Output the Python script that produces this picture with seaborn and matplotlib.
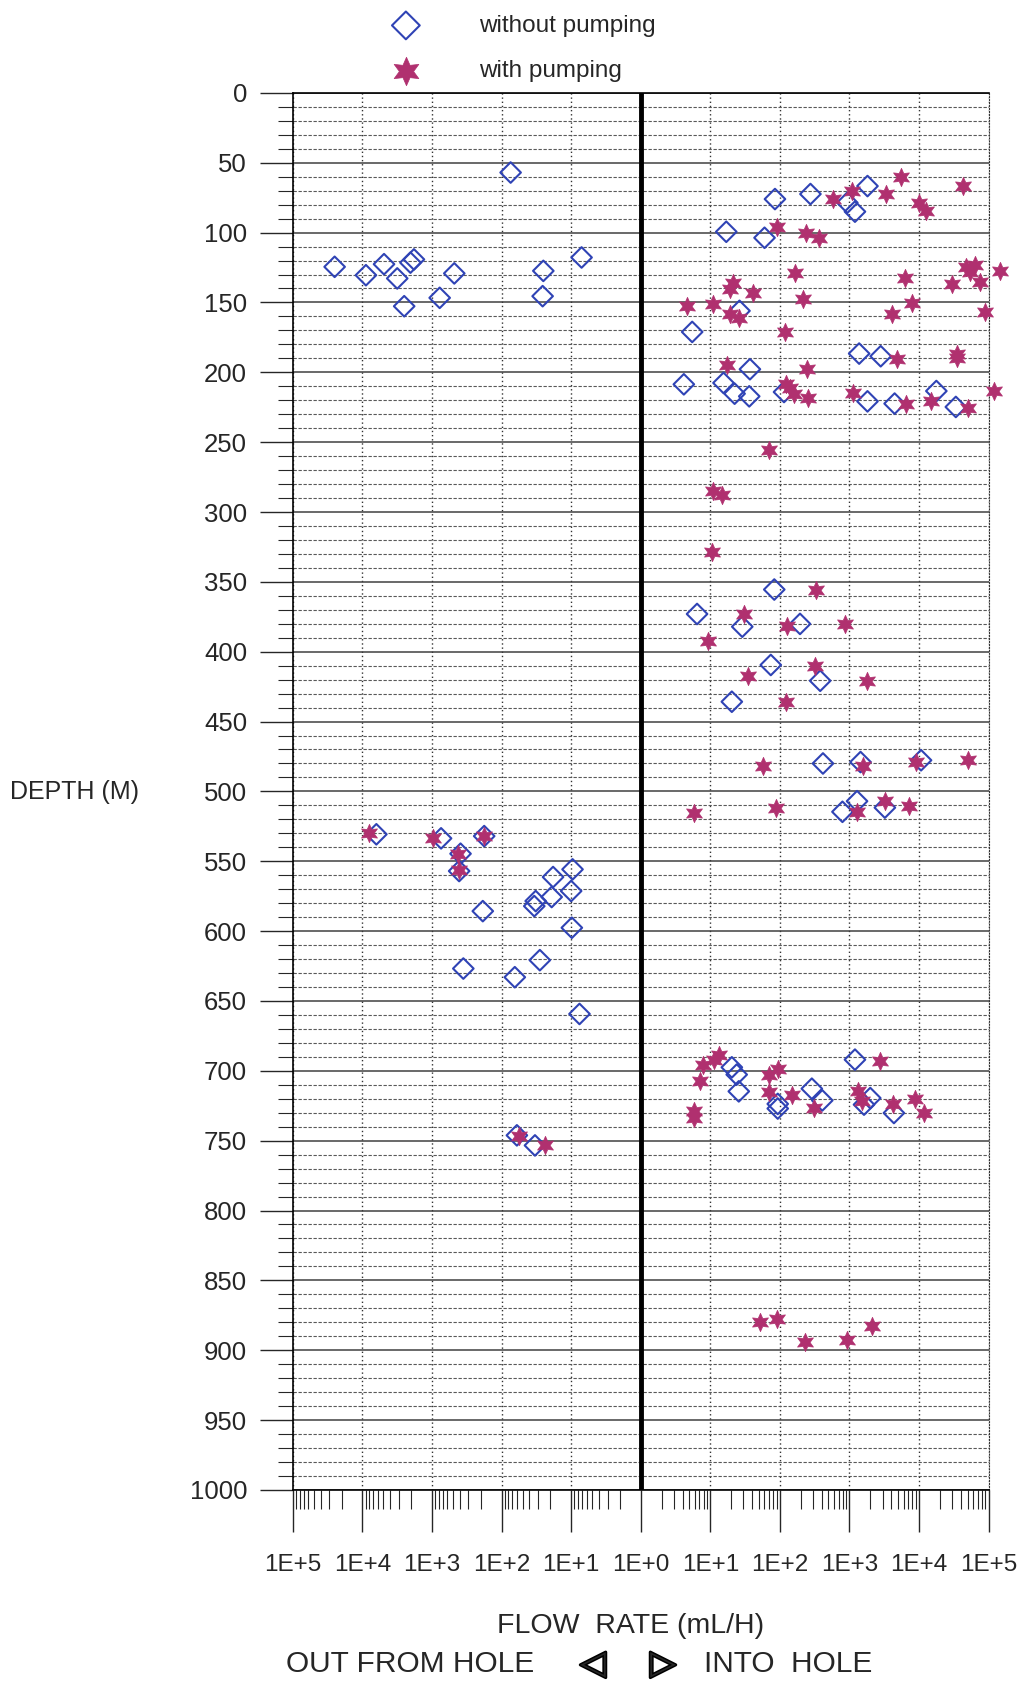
import numpy as np
import pandas as pd
import matplotlib.pyplot as plt
import matplotlib.patheffects as pe
import seaborn as sns
from matplotlib.ticker import FixedLocator, MultipleLocator

# flow rate given as signed decade: log10(mL/H), negative = out from hole
nopump_decade = [-1.87, -4.40, -3.95, -3.69, -3.50, -3.40, -3.26, -3.31, -2.89, -2.68, -1.40, -1.41, -0.85,
                 -3.80, -2.87, -2.25, -2.59, -2.61, -0.98, -1.26, -1.00, -1.28, -1.51, -1.53, -2.27, -0.99,
                 -1.45, -2.55, -1.81, -0.88, -1.78, -1.52,
                 1.93, 2.44, 3.26, 2.97, 3.08, 1.23, 1.78,
                 1.42, 0.74, 3.14, 3.45, 1.57, 0.62, 1.19, 1.35, 1.56, 2.06, 3.26, 3.65, 4.25, 4.53,
                 1.92, 0.81, 1.46, 2.29, 1.87, 2.58, 1.31,
                 2.62, 3.16, 4.03, 2.90, 3.11, 3.51,
                 1.31, 1.38, 1.41, 1.97, 1.97, 2.46, 2.61, 3.08, 3.30, 3.21, 3.64]
nopump_depth = [57, 124.5, 130.5, 122.6, 132.8, 152.7, 119.2, 121.5, 146.7, 129.2, 127.4, 145.5, 117.8,
                530.7, 533.6, 532, 544.6, 557, 555.8, 561.3, 571.3, 575.6, 578.5, 582.1, 585.7, 597.6,
                620.8, 626.8, 633, 659.3, 746.2, 753.4,
                76, 72.4, 66.7, 78.6, 85, 99.4, 103.7,
                156, 171.1, 186.6, 188.5, 197.8, 208.6, 207.6, 215.3, 217.2, 214.1, 220.8, 222.4, 213.4, 224.8,
                355.5, 373, 382.1, 380.1, 409.5, 420.8, 435.8,
                480, 479, 477.7, 514.6, 507, 511.6,
                697.5, 702.7, 714.7, 723.7, 727, 712.8, 721.2, 692, 719.5, 724.2, 730.2]

pump_decade = [3.74, 4.64, 3.04, 2.76, 3.52, 4.00, 4.10, 1.96, 2.38, 2.56,
               2.22, 1.32, 1.29, 1.61, 0.66, 1.04, 1.28, 1.42, 2.33, 2.08, 3.80, 3.90, 3.61, 4.48, 4.67,
               4.74, 4.81, 4.88, 5.16, 4.95,
               4.54, 4.54, 3.68, 1.24, 2.39, 2.09, 2.15, 2.21, 2.40, 3.05, 3.82, 4.17, 4.71, 5.08, 1.85,
               1.04, 1.17, 1.02,
               2.52, 1.48, 2.11, 2.94, 0.97, 2.51, 1.54, 3.26, 2.09,
               1.76, 3.20, 3.96, 4.70, 1.94, 0.77, 3.11, 3.51, 3.86,
               0.89, 1.05, 1.13, 0.85, 0.76, 0.76, 1.85, 1.98, 1.85, 2.18, 2.49, 3.44, 3.12, 3.18, 3.62,
               3.95, 4.07,
               1.72, 1.96, 2.36, 2.96, 3.33,
               -3.90, -2.98, -2.25, -2.62, -2.61, -1.75, -1.38]
pump_depth = [60.4, 66.7, 70, 76.2, 72.4, 78.6, 84.6, 95.8, 100.1, 103.7,
              129.2, 136.4, 140.7, 143.2, 152.5, 150.8, 158.4, 160.8, 147.2, 171.5, 132.8, 150.3, 158.4,
              136.9, 124.9, 128.1, 123.3, 135.3, 127.4, 156.7,
              186.6, 189.5, 190.2, 195, 197.8, 208.1, 211, 215.3, 218.1, 214.8, 222.4, 220.5, 225.3,
              213.4, 255.4,
              285.1, 287.5, 328.5,
              355.8, 373, 381.9, 380.1, 392.6, 410, 417.2, 420.8, 435.8,
              481.5, 481.5, 479, 477.7, 511.6, 515.4, 515, 507, 510.8,
              696.1, 692, 688.4, 707, 729, 734, 702.7, 698.4, 715.2, 717.1, 726.6, 692.7, 714.2, 721.9,
              723.8, 719.9, 730.2,
              879.6, 877.6, 893.9, 892.7, 882.4,
              529.7, 533.6, 531.9, 545, 556.5, 746.9, 753.4]

decade_ticks = [-5, -4, -3, -2, -1, 0, 1, 2, 3, 4, 5]
decade_labels = ["1E+5", "1E+4", "1E+3", "1E+2", "1E+1", "1E+0",
                 "1E+1", "1E+2", "1E+3", "1E+4", "1E+5"]

BLUE = "#2f43b5"
PURPLE = "#b0306f"

sns.set_style("white")
plt.rcParams["font.family"] = ["Liberation Sans", "DejaVu Sans"]

fig = plt.figure(figsize=(10.17, 16.86), dpi=100)
ax = fig.add_axes([0.288, 0.1163, 0.684, 0.8286])

df_no = pd.DataFrame({"decade": nopump_decade, "depth": nopump_depth})
df_p = pd.DataFrame({"decade": pump_decade, "depth": pump_depth})

sns.scatterplot(data=df_no, x="decade", y="depth", marker="D", s=110, facecolor="none",
                edgecolor=BLUE, linewidth=1.5, ax=ax, label="without pumping",
                clip_on=False, zorder=5)
sns.scatterplot(data=df_p, x="decade", y="depth", marker=(6, 1, 0), s=175, color=PURPLE,
                edgecolor=PURPLE, linewidth=0.5, ax=ax, label="with pumping",
                clip_on=False, zorder=6)

ax.set_xlim(-5, 5)
ax.set_ylim(1000, 0)

# log minor ticks hanging under each decade
minor = []
for d in range(5):
    for k in range(2, 10):
        minor.append(d + np.log10(k))
        minor.append(-(d + np.log10(k)))
ax.xaxis.set_major_locator(FixedLocator(decade_ticks))
ax.xaxis.set_minor_locator(FixedLocator(minor))
ax.set_xticklabels(decade_labels, fontsize=17.5)
ax.yaxis.set_major_locator(MultipleLocator(50))
ax.yaxis.set_minor_locator(MultipleLocator(10))

ax.grid(which="major", axis="y", color="0.25", lw=1.1, ls="-")
ax.grid(which="minor", axis="y", color="0.35", lw=0.8, ls=(0, (3, 1.5)))
ax.grid(which="major", axis="x", color="0.2", lw=1.0, ls=(0, (1, 2)))
ax.axvline(0, color="black", lw=3.5, zorder=4)

ax.tick_params(axis="x", which="major", length=30, width=1, pad=16, direction="out", bottom=True)
ax.tick_params(axis="x", which="minor", length=14, width=0.8, direction="out", bottom=True)
ax.tick_params(axis="y", which="major", length=24, width=1, pad=9, labelsize=18.5, direction="out", left=True)
ax.tick_params(axis="y", which="minor", length=11, width=0.8, direction="out", left=True)

for side in ["left", "bottom", "top"]:
    ax.spines[side].set_color("black")
    ax.spines[side].set_linewidth(1.2)
ax.spines["right"].set_color("0.2")
ax.spines["right"].set_linestyle(":")

ax.set_xlabel("")
ax.set_ylabel("")

fig.text(75 / 1017, 1 - 792 / 1686, "DEPTH (M)", ha="center", va="center", fontsize=18)
fig.text(631 / 1017, 1 - 1626 / 1686, "FLOW  RATE (mL/H)", ha="center", va="center", fontsize=20.5)
fig.text(534 / 1017, 1 - 1664 / 1686, "OUT FROM HOLE", ha="right", va="center", fontsize=21.5)
fig.text(704 / 1017, 1 - 1664 / 1686, "INTO  HOLE", ha="left", va="center", fontsize=21.5)
thick = [pe.withStroke(linewidth=2.2, foreground="black")]
fig.text(593 / 1017, 1 - 1664 / 1686, "\u25c1", ha="center", va="center",
         fontsize=24, fontweight="bold", family=["DejaVu Sans"], path_effects=thick)
fig.text(663 / 1017, 1 - 1664 / 1686, "\u25b7", ha="center", va="center",
         fontsize=24, fontweight="bold", family=["DejaVu Sans"], path_effects=thick)

leg = ax.legend(loc="upper left", bbox_to_anchor=(384 / 1017, 0.997), bbox_transform=fig.transFigure,
                frameon=False, fontsize=17.5, handlelength=1, handletextpad=2.5, labelspacing=0.95,
                borderpad=0.4, borderaxespad=0)
leg.legend_handles[0].set_sizes([200])
leg.legend_handles[1].set_sizes([420])

fig.savefig("out.png", dpi=100, facecolor="white")
